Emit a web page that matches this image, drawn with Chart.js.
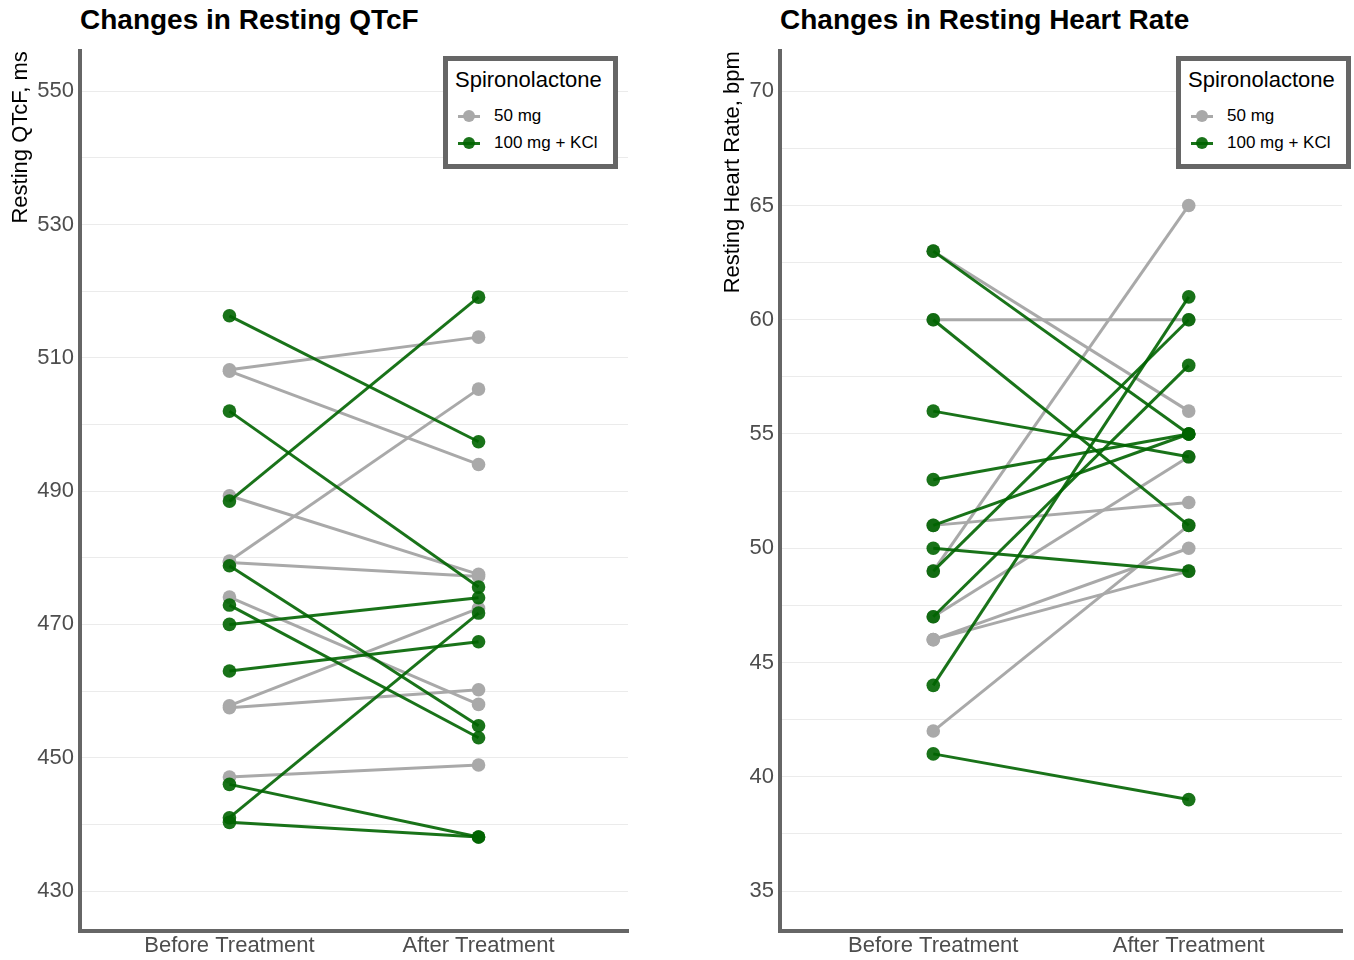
<!DOCTYPE html>
<html>
<head>
<meta charset="utf-8">
<title>Spironolactone: QTcF and heart rate</title>
<script src="https://cdn.jsdelivr.net/npm/chart.js@4.4.1/dist/chart.umd.min.js"></script>
<style>
  body { margin: 0; width: 1354px; height: 960px; background: #fff; position: relative; overflow: hidden;
         font-family: "Liberation Sans", Arial, sans-serif; }
  .title { position: absolute; top: 3px; font-weight: bold; font-size: 28px; line-height: 34px; color: #000; white-space: nowrap; }
  .panel { position: absolute; top: 32px; }
  .legend { position: absolute; top: 56px; width: 165px; height: 103px; border: 5px solid #666; background: #fff; }
  .legend .ltitle { position: absolute; left: 7px; top: 7px; font-size: 22px; line-height: 24px; color: #000; }
  .legend .item { position: absolute; left: 0; height: 20px; width: 165px; }
  .legend .sym { position: absolute; left: 10px; top: 9px; width: 22px; height: 3px; }
  .legend .dot { position: absolute; left: 15px; top: 4px; width: 12px; height: 12px; border-radius: 50%; }
  .legend .txt { position: absolute; left: 46px; top: 0; font-size: 17px; line-height: 20px; color: #000; white-space: nowrap; }
</style>
</head>
<body>
<div class="title" style="left:80px">Changes in Resting QTcF</div>
<div class="title" style="left:780px">Changes in Resting Heart Rate</div>
<canvas id="qtcChart" class="panel" style="left:0px" width="640" height="928"></canvas>
<canvas id="hrChart" class="panel" style="left:700px" width="654" height="928"></canvas>
<div class="legend" id="legendQtc" style="left:443px"></div>
<div class="legend" id="legendHr" style="left:1176px"></div>

<script>
const categories = ["Before Treatment", "After Treatment"];
const groupNames = ["50 mg", "100 mg + KCl"];
const groupColors = ["rgb(169,169,169)", "rgba(0,100,0,0.9)"];

// QTcF (ms), one entry per patient
const qtcBefore50 = [508.2, 508.0, 489.3, 479.5, 479.3, 474.1, 457.8, 457.5, 447.1];
const qtcAfter50 = [513.1, 494.0, 477.5, 505.3, 477.2, 458.0, 472.4, 460.2, 448.9];
const qtcBefore100 = [516.3, 502.0, 488.5, 478.8, 472.9, 470.0, 463.0, 446.0, 441.0, 440.3];
const qtcAfter100 = [497.4, 475.6, 519.1, 454.8, 453.0, 474.0, 467.4, 438.1, 471.7, 438.1];

// heart rate (bpm)
const hrBefore50 = [63, 60, 51, 49, 47, 46, 46, 42];
const hrAfter50 = [56, 60, 52, 65, 54, 50, 49, 51];
const hrBefore100 = [63, 60, 56, 53, 51, 50, 49, 47, 44, 41];
const hrAfter100 = [55, 51, 54, 55, 55, 49, 60, 58, 61, 39];

// axes
const qtcGridLines = [430, 440, 450, 460, 470, 480, 490, 500, 510, 520, 530, 540, 550];
const qtcTickLabels = [430, 450, 470, 490, 510, 530, 550];
const hrGridLines = [35, 37.5, 40, 42.5, 45, 47.5, 50, 52.5, 55, 57.5, 60, 62.5, 65, 67.5, 70];
const hrTickLabels = [35, 40, 45, 50, 55, 60, 65, 70];

const fontFamily = '"Liberation Sans", Arial, sans-serif';

function pairDatasets(before, after, group) {
  const color = groupColors[group];
  return before.map((b, i) => ({
    label: groupNames[group],
    data: [{ x: 1, y: b }, { x: 2, y: after[i] }],
    borderColor: color,
    backgroundColor: color,
    pointBackgroundColor: color,
    pointBorderColor: color,
    borderWidth: 3,
    pointRadius: 6.8,
    pointBorderWidth: 0,
    order: group === 1 ? 0 : 1, // green on top
  }));
}

function makeChart(id, datasets, yMin, yMax, gridLines, tickLabels, yTitle, titlePad) {
  return new Chart(document.getElementById(id), {
    type: "line",
    data: { datasets: datasets },
    options: {
      responsive: false,
      animation: false,
      layout: { padding: { top: 2, right: 12, left: 0, bottom: 0 } },
      plugins: { legend: { display: false }, tooltip: { enabled: false } },
      scales: {
        x: {
          type: "linear",
          min: 0.4,
          max: 2.6,
          afterBuildTicks: (s) => { s.ticks = categories.map((_, i) => ({ value: i + 1 })); },
          afterFit: (s) => { s.height = 29; },
          ticks: {
            callback: (v) => categories[v - 1],
            font: { size: 22, family: fontFamily },
            color: "#4d4d4d",
            padding: 2,
            autoSkip: false,
            maxRotation: 0,
          },
          grid: { display: false, drawTicks: false },
          border: { display: true, width: 4, color: "#666" },
        },
        y: {
          min: yMin,
          max: yMax,
          afterBuildTicks: (s) => { s.ticks = gridLines.map((v) => ({ value: v })); },
          afterFit: (s) => { s.width = 80; },
          ticks: {
            callback: (v) => (tickLabels.includes(v) ? v : ""),
            font: { size: 22, family: fontFamily },
            color: "#4d4d4d",
            padding: 6,
            autoSkip: false,
          },
          grid: { color: "#ebebeb", lineWidth: 1, drawTicks: false },
          border: { display: true, width: 4, color: "#666" },
          title: {
            display: true,
            text: yTitle,
            align: "end",
            color: "#000",
            font: { size: 22, family: fontFamily },
            padding: { top: titlePad, bottom: 0 },
          },
        },
      },
    },
  });
}

function buildLegend(id) {
  const box = document.getElementById(id);
  let html = '<div class="ltitle">Spironolactone</div>';
  groupNames.forEach((name, i) => {
    html += '<div class="item" style="top:' + (45 + i * 27) + 'px">' +
      '<div class="sym" style="background:' + groupColors[i] + '"></div>' +
      '<div class="dot" style="background:' + groupColors[i] + '"></div>' +
      '<div class="txt">' + name + '</div></div>';
  });
  box.innerHTML = html;
}

makeChart("qtcChart",
  pairDatasets(qtcBefore50, qtcAfter50, 0).concat(pairDatasets(qtcBefore100, qtcAfter100, 1)),
  424, 556, qtcGridLines, qtcTickLabels, "Resting QTcF, ms", 8);

makeChart("hrChart",
  pairDatasets(hrBefore50, hrAfter50, 0).concat(pairDatasets(hrBefore100, hrAfter100, 1)),
  33.25, 71.75, hrGridLines, hrTickLabels, "Resting Heart Rate, bpm", 20);

buildLegend("legendQtc");
buildLegend("legendHr");
</script>
</body>
</html>
